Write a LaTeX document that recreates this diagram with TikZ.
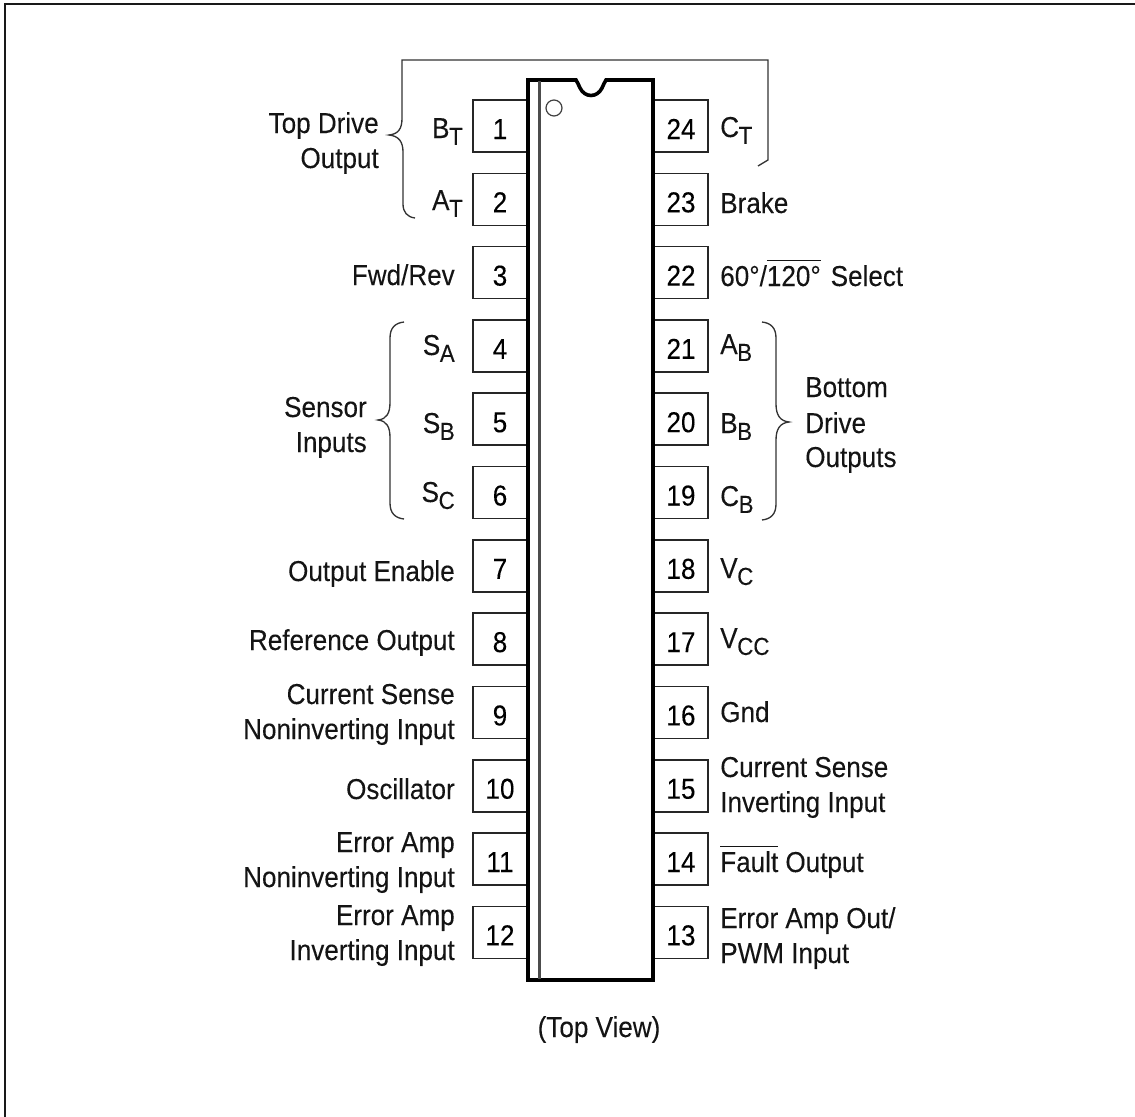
\documentclass[tikz,border=0pt]{standalone}
\usepackage{fontspec}
\setmainfont[FakeStretch=0.905,FakeBold=0.12]{Liberation Sans}
\newcommand{\sbs}[1]{\kern-0.3pt\raisebox{-5.2pt}{\fontsize{18.5}{20}\selectfont #1}}
\newcommand{\ovl}[1]{\setbox0=\hbox{#1}\rlap{\rule[18.6pt]{\wd0}{0.8pt}}\box0\relax}
\tikzset{
  pin/.style={draw=black!85,line width=1.2pt,fill=white,rectangle,inner sep=0pt,
    minimum width=40.5pt,minimum height=39pt,text height=19.5pt,text depth=0pt,
    font=\fontsize{21.6}{25}\selectfont},
  lab/.style={inner sep=0pt,font=\fontsize{21.6}{26.25}\selectfont,text=black!92},
  ll/.style={lab,anchor=base east},
  rl/.style={lab,anchor=base west},
  curly/.style={draw=black!80,line width=1pt},
  chip/.style={draw=black,line width=2.7pt,fill=white,line join=miter},
}
\begin{document}
\begin{tikzpicture}[x=0.75pt,y=-0.75pt]
\useasboundingbox (0,0) rectangle (1135,1117);
\draw[line width=2.2pt,draw=black!90] (5,1117) -- (5,4) -- (1135,4);
% pins
\foreach \n [count=\i from 0] in {1,...,12}{
  \node[pin] (L\n) at (500,{126+73.3*\i}) {\n};
  \pgfmathtruncatemacro{\m}{25-\n}
  \node[pin] (R\m) at (681,{126+73.3*\i}) {\m};
}
% chip body
\draw[chip] (528,80) -- (576,80) .. controls (578,82) and (578,85) .. (580,88)
  .. controls (585,98) and (597,98) .. (602,88) .. controls (604,85) and (604,82) .. (606,80)
  -- (653,80) -- (653,980) -- (528,980) -- cycle;
\draw[draw=black!70,line width=1.6pt] (539.5,81) -- (539.5,979);
\draw[draw=black!75,line width=0.9pt] (554,108) circle (8);
% braces
\draw[curly] (415,218) .. controls (407,217) and (403,212) .. (403,204) -- (403,152)
  .. controls (403,142) and (399,136) .. (389,135) .. controls (399,134) and (402,128) .. (402,118)
  -- (402,60) -- (768,60) -- (768,160) -- (758,166);
\draw[curly] (404,322) .. controls (395,323) and (390,328) .. (390,338) -- (390,402)
  .. controls (390,413) and (387,419) .. (378,420) .. controls (387,421) and (390,427) .. (390,438)
  -- (390,503) .. controls (390,513) and (395,518) .. (404,519);
\draw[curly] (762,322) .. controls (771,323) and (776,328) .. (776,338) -- (776,404)
  .. controls (776,415) and (780,421) .. (789,422) .. controls (780,423) and (776,429) .. (776,440)
  -- (776,504) .. controls (776,514) and (771,519) .. (762,520);
% left labels
\node[ll] (tla) at (379,133) {Top Drive};
\node[ll] (tlb) at (379,168) {Output};
\node[ll] (lbt) at (463,138) {B\sbs{T}};
\node[ll] (lat) at (463,210) {A\sbs{T}};
\node[ll] (lfr) at (455,285) {Fwd/Rev};
\node[ll] (lsi) at (367,417) {Sensor};
\node[ll] (lsj) at (367,452) {Inputs};
\node[ll] (lsa) at (455,355) {S\sbs{A}};
\node[ll] (lsb) at (455,433) {S\sbs{B}};
\node[ll] (lsc) at (455,502) {S\sbs{C}};
\node[ll] (loe) at (455,581) {Output Enable};
\node[ll] (lro) at (455,650) {Reference Output};
\node[ll] (lcs) at (455,704) {Current Sense};
\node[ll] (lct) at (455,739) {Noninverting Input};
\node[ll] (los) at (455,799) {Oscillator};
\node[ll] (lea) at (455,852) {Error Amp};
\node[ll] (leb) at (455,887) {Noninverting Input};
\node[ll] (lec) at (455,925) {Error Amp};
\node[ll] (led) at (455,960) {Inverting Input};
% right labels
\node[rl] (rct) at (720,137) {C\sbs{T}};
\node[rl] (rbr) at (720,213) {Brake};
\node[rl] (rse) at (720,286) {60°/\ovl{120°}\kern2pt\ Select};
\node[rl] (rab) at (720,354) {A\sbs{B}};
\node[rl] (rbb) at (720,433) {B\sbs{B}};
\node[rl] (rcb) at (720,506) {C\sbs{B}};
\node[rl] (rbo) at (805,397) {Bottom};
\node[rl] (rbp) at (805,433) {Drive};
\node[rl] (rbq) at (805,467) {Outputs};
\node[rl] (rvc) at (720,578) {V\sbs{C}};
\node[rl] (rvd) at (720,648) {V\sbs{CC}};
\node[rl] (rgn) at (720,722) {Gnd};
\node[rl] (rcs) at (720,777) {Current Sense};
\node[rl] (rct2) at (720,812) {Inverting Input};
\node[rl] (rfa) at (720,872) {\ovl{Fault} Output};
\node[rl] (rer) at (720,928) {Error Amp Out/};
\node[rl] (rfs) at (720,963) {PWM Input};
\node[lab,anchor=base] (tv) at (599,1037) {(Top View)};
\end{tikzpicture}
\end{document}
